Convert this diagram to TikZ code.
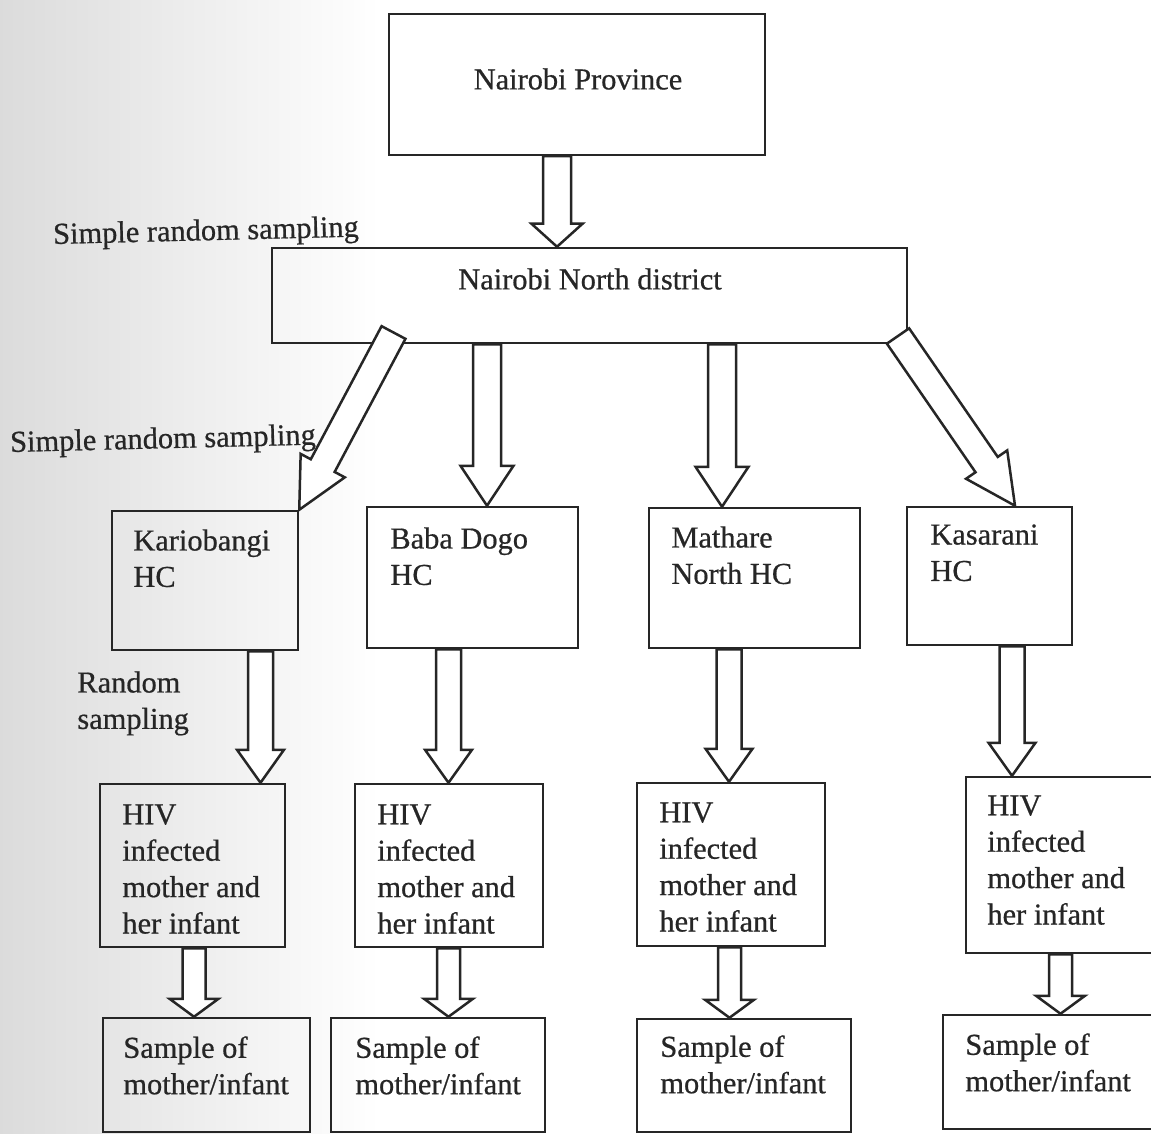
\documentclass[tikz,border=0pt]{standalone}
\usepackage{fontspec}
\setmainfont{Liberation Serif}
\newfontfamily\scanfont{Liberation Serif}[FakeBold=0.6]
\usetikzlibrary{calc,fit}
\definecolor{ink}{HTML}{262626}
\def\arrsw{6.25pt}\def\arrhw{12.5pt}\def\arrhl{14.5pt}
\tikzset{
  arrsw/.code={\def\arrsw{#1}},
  arrhw/.code={\def\arrhw{#1}},
  arrhl/.code={\def\arrhl{#1}},
  box/.style={draw=ink, line width=1.25pt, inner sep=0pt},
  txt/.style={text=ink, font=\scanfont\fontsize{15.2}{18.2}\selectfont, inner sep=0pt, align=left},
  blk/.style={draw=ink, line width=1.25pt, fill=white, line join=miter,
    to path={let \p1=(\tikztostart), \p2=(\tikztotarget),
      \n1={atan2(\y2-\y1,\x2-\x1)},
      \p3=($(\p2)+(\n1+180:\arrhl)$) in
      ($(\p1)+(\n1+90:\arrsw)$) -- ($(\p3)+(\n1+90:\arrsw)$) --
      ($(\p3)+(\n1+90:\arrhw)$) -- (\p2) -- ($(\p3)+(\n1-90:\arrhw)$) --
      ($(\p3)+(\n1-90:\arrsw)$) -- ($(\p1)+(\n1-90:\arrsw)$) -- cycle}},
  lvlA/.style={blk, arrsw=7pt, arrhw=12.75pt, arrhl=11.5pt},
  lvlB/.style={blk, arrsw=7pt, arrhw=13.25pt, arrhl=20pt},
  lvlD/.style={blk, arrsw=6.75pt, arrhw=12.5pt, arrhl=25pt},
  lvlC/.style={blk, arrsw=6.25pt, arrhw=11.75pt, arrhl=16.5pt},
  lvlE/.style={blk, arrsw=5.75pt, arrhw=12.25pt, arrhl=9pt},
}
\begin{document}
\begin{tikzpicture}[x=0.5pt,y=-0.5pt]
\useasboundingbox (0,0) rectangle (1151,1134);
\clip (0,0) rectangle (1151,1134);
\fill[white] (0,0) rectangle (1151,1134);
\shade[left color=black!14, right color=white] (0,0) rectangle (380,1134);

% boxes
\node[box, fit={(389,14) (765,155)}] (prov) {};
\node[box, fit={(272,248) (907,343)}] (dist) {};
\node[box, fit={(112,511) (298,650)}] (kario) {};
\node[box, fit={(367,507) (578,648)}] (baba) {};
\node[box, fit={(649,508) (860,648)}] (math) {};
\node[box, fit={(907,507) (1072,645)}] (kas) {};
\node[box, fit={(100,784) (285,947)}] (hiva) {};
\node[box, fit={(355,784) (543,947)}] (hivb) {};
\node[box, fit={(637,783) (825,946)}] (hivc) {};
\node[box, fit={(966,777) (1170,953)}] (hivd) {};
\node[box, fit={(103,1018) (310,1132)}] (sampa) {};
\node[box, fit={(331,1018) (545,1132)}] (sampb) {};
\node[box, fit={(637,1019) (851,1132)}] (sampc) {};
\node[box, fit={(943,1015) (1170,1129)}] (sampd) {};

% texts
\node[txt] (provt) at (578,79) {Nairobi Province};
\node[txt] (distt) at (590,279) {Nairobi North district};
\node[txt, anchor=north west] (kariot) at (133,529) {Kariobangi\\HC};
\node[txt, anchor=north west] (babat) at (390,527) {Baba Dogo\\HC};
\node[txt, anchor=north west] (matht) at (671,526) {Mathare\\North HC};
\node[txt, anchor=north west] (kast) at (930,524) {Kasarani\\HC};
\node[txt, anchor=north west] (hivat) at (122,804) {HIV\\infected\\mother and\\her infant};
\node[txt, anchor=north west] (hivbt) at (377,804) {HIV\\infected\\mother and\\her infant};
\node[txt, anchor=north west] (hivct) at (659,802) {HIV\\infected\\mother and\\her infant};
\node[txt, anchor=north west] (hivdt) at (987,795) {HIV\\infected\\mother and\\her infant};
\node[txt, anchor=north west] (sampat) at (123,1036) {Sample of\\mother/infant};
\node[txt, anchor=north west] (sampbt) at (355,1036) {Sample of\\mother/infant};
\node[txt, anchor=north west] (sampct) at (660,1035) {Sample of\\mother/infant};
\node[txt, anchor=north west] (sampdt) at (965,1033) {Sample of\\mother/infant};
\node[txt, rotate=1.4] (labA) at (206,233) {Simple random sampling};
\node[txt, rotate=1.4] (labB) at (163,441) {Simple random sampling};
\node[txt, anchor=north west] (labC) at (77,671) {Random\\sampling};

% connector end points
\coordinate (a1s) at (prov.south -| 557,0);
\coordinate (a1e) at (dist.north -| 557,0);
\coordinate (a2s) at (dist.south -| 487,0);
\coordinate (a2e) at (baba.north -| 487,0);
\coordinate (a3s) at (dist.south -| 722,0);
\coordinate (a3e) at (math.north -| 722,0);
\coordinate (a4s) at (393.5,332.5);
\coordinate (a5s) at (898,336);
\coordinate (a5e) at (kas.north -| 1015,0);
\coordinate (b1s) at (kario.south -| 260.5,0);
\coordinate (b1e) at (hiva.north -| 260.5,0);
\coordinate (b2s) at (baba.south -| 448.5,0);
\coordinate (b2e) at (hivb.north -| 448.5,0);
\coordinate (b3s) at (math.south -| 729,0);
\coordinate (b3e) at (hivc.north -| 729,0);
\coordinate (b4s) at (kas.south -| 1012,0);
\coordinate (b4e) at (hivd.north -| 1012,0);
\coordinate (c1s) at (hiva.south -| 194,0);
\coordinate (c1e) at (sampa.north -| 194,0);
\coordinate (c2s) at (hivb.south -| 448.5,0);
\coordinate (c2e) at (sampb.north -| 448.5,0);
\coordinate (c3s) at (hivc.south -| 729.5,0);
\coordinate (c3e) at (sampc.north -| 729.5,0);
\coordinate (c4s) at (hivd.south -| 1060.5,0);
\coordinate (c4e) at (sampd.north -| 1060.5,0);

% block arrows
\draw[lvlA] (a1s) to (a1e);
\draw[lvlB] (a2s) to (a2e);
\draw[lvlB] (a3s) to (a3e);
\draw[lvlD] (a4s) to (kario.north east);
\draw[lvlD] (a5s) to (a5e);
\draw[lvlC] (b1s) to (b1e);
\draw[lvlC] (b2s) to (b2e);
\draw[lvlC] (b3s) to (b3e);
\draw[lvlC] (b4s) to (b4e);
\draw[lvlE] (c1s) to (c1e);
\draw[lvlE] (c2s) to (c2e);
\draw[lvlE] (c3s) to (c3e);
\draw[lvlE] (c4s) to (c4e);
\end{tikzpicture}
\end{document}
